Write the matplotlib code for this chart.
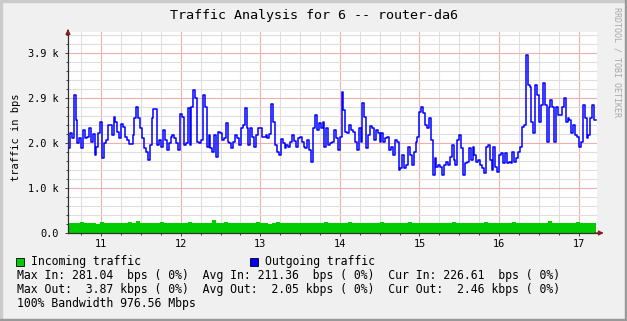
import numpy as np
import matplotlib.pyplot as plt
from matplotlib.patches import Rectangle

# time span of the samples (x axis = day of month)
t_start = 10.584
t_end = 17.218

# outgoing traffic, bps (~2px per sample)
out_bps = [
    1840, 2170, 2060, 2990, 2450, 1950, 2060, 1840, 2230, 2060,
    2080, 2270, 1970, 2140, 1690, 1860, 2170, 2400, 1620, 1950,
    2010, 2340, 2340, 2120, 2510, 2400, 2190, 2060, 2360, 2300, 2080,
    2010, 1930, 1930, 2120, 2490, 2730, 2490, 2270, 2060, 1840, 1750,
    1580, 1910, 2490, 2690, 2690, 1910, 2010, 1860, 2230, 2010,
    1800, 1950, 2080, 2120, 2060, 1950, 1800, 2580, 2510, 1910,
    1950, 2710, 1910, 2730, 3100, 2920, 1970,
    1950, 2010, 2990, 2730, 1860, 2120, 1840, 1750, 2120, 1650,
    2190, 2170, 2010, 2060, 2380, 1970, 1950, 1840, 1970, 2120,
    2060, 1910, 2270, 2340, 2710, 2270, 1910, 2270, 2080, 1860,
    2120, 2270, 2270, 2080, 2080, 2120, 2060, 2140, 2790, 2400,
    1910, 1750, 1690, 2040, 1950, 1840, 1910, 1860, 1970, 2120,
    1990, 1860, 2060, 2080, 1970, 1860, 1840, 2010, 1800, 1540,
    2270, 2560, 2230, 2380, 2270, 2400, 1860, 2270, 1910, 1950,
    1970, 2230, 2060, 1800, 2080, 3050, 2660, 2190, 2170, 2340,
    2230, 2190, 1970, 1800, 2270, 1970, 2820, 2510, 1840, 2120,
    2320, 2270, 2010, 2230, 2170, 1970, 2170, 1970, 2060, 2080,
    1800, 1860, 1690, 2010, 1970, 1370, 1410, 1690, 1410, 1470,
    1860, 1690, 1470, 1750, 1970, 2080, 2620, 2730, 2600, 2340,
    2270, 2490, 2010, 1260, 1620, 1430, 1470, 1430, 1260, 1470,
    1540, 1470, 1650, 1910, 1580, 1470, 2010,
    2120, 1840, 1260, 1520, 1540, 1840, 1580, 1860, 1690, 1540,
    1580, 1470, 1410, 1300, 1860, 1910, 1580, 1370, 1860, 1430,
    1320, 1690, 1730, 1520, 1730, 1520, 1540, 1520, 1750, 1540,
    1620, 1750, 1860, 2300, 2340, 3860, 3210, 3160, 2400, 2170,
    3210, 2990, 2400, 2770, 3250, 2770, 1970, 2730, 2880, 2730,
    1970, 2730, 2560, 2560, 2730, 2920, 2400, 2490, 2450, 2170,
    2340, 2120, 2080, 1860, 1970, 2770, 2490, 2060, 2120, 2490,
    2770, 2450,
]

# incoming traffic, bps
in_bps = [
    215, 222, 208, 230, 212, 225, 218, 204, 228, 216,
    221, 210, 226, 214, 219, 232, 211, 268, 220, 209,
    224, 213, 218, 229, 206, 221, 215, 227, 212, 219,
    230, 208, 222, 214, 225, 217, 281, 213, 220, 228,
    207, 219, 224, 211, 226, 215, 209, 231, 218, 222,
    205, 217, 228, 213, 220, 224, 210, 219, 227, 214,
    221, 208, 225, 216, 230, 212, 219, 206, 223, 217,
    228, 211, 220, 214, 226, 209, 222, 218, 231, 213,
    216, 224, 207, 221, 215, 229, 212, 220, 218, 225,
    210, 223, 214, 227, 208, 219, 232, 215, 221, 211,
    226, 213, 220, 217, 229, 209, 222, 215, 224, 212,
    218, 230, 206, 221, 216, 227, 213, 220, 225, 211,
    262, 218, 223, 209, 226, 215, 221, 230, 212, 219,
    224, 227,
]

xtick_vals = [11, 12, 13, 14, 15, 16, 17]
xtick_labels = ["11", "12", "13", "14", "15", "16", "17"]
ytick_vals = [0, 976.5625, 1953.125, 2929.6875, 3906.25]
ytick_labels = ["0.0", "1.0 k", "2.0 k", "2.9 k", "3.9 k"]

title = "Traffic Analysis for 6 -- router-da6"
legend_names = ["Incoming traffic", "Outgoing traffic"]
legend_lines = [
    "Max In: 281.04  bps ( 0%)  Avg In: 211.36  bps ( 0%)  Cur In: 226.61  bps ( 0%)",
    "Max Out:  3.87 kbps ( 0%)  Avg Out:  2.05 kbps ( 0%)  Cur Out:  2.46 kbps ( 0%)",
    "100% Bandwidth 976.56 Mbps",
]

W, H = 627.0, 321.0
mono = "DejaVu Sans Mono"

fig = plt.figure(figsize=(W / 100, H / 100), dpi=100, facecolor="#F0F0F0")
ax = fig.add_axes([68 / W, 1 - 233 / H, 529 / W, 201 / H])
ax.set_facecolor("white")

# data
e_out = np.linspace(t_start, t_end, len(out_bps) + 1)
e_in = np.linspace(t_start, t_end, len(in_bps) + 1)
ax.fill_between(e_in, in_bps + [in_bps[-1]], step="post", color="#00CC00", lw=0, zorder=2)
ax.step(e_out, out_bps + [out_bps[-1]], where="post", color="#0000FF", lw=1.1, zorder=3)

ax.set_xlim(10.584, 17.23)
ax.set_ylim(0, 4355)

# grid
ax.set_xticks(xtick_vals)
ax.set_xticklabels(xtick_labels)
ax.set_yticks(ytick_vals)
ax.set_yticklabels(ytick_labels)
ax.set_xticks(np.arange(10.75, 17.25, 0.25), minor=True)
ax.set_yticks(np.arange(0, 4355, 195.3125), minor=True)
ax.grid(which="minor", color="#DEDEDE", lw=0.8)
ax.grid(which="major", color="#EDB0B0", lw=0.8)
ax.set_axisbelow(True)

for s in ["top", "right"]:
    ax.spines[s].set_visible(False)
for s in ["left", "bottom"]:
    ax.spines[s].set_color("#303030")
    ax.spines[s].set_linewidth(0.9)

ax.tick_params(which="both", length=2.5, width=0.7, color="#404040")
ax.tick_params(which="minor", length=1.5)
ax.tick_params(axis="y", pad=4)
ax.tick_params(axis="x", pad=2)
for lab in ax.get_xticklabels() + ax.get_yticklabels():
    lab.set_fontfamily(mono)
    lab.set_fontsize(7.4)

# arrows on the axes
ax.annotate("", xy=(1.018, 0), xytext=(0.99, 0), xycoords="axes fraction",
            arrowprops=dict(arrowstyle="-|>", color="#7F1F1F", lw=0.9, mutation_scale=7),
            annotation_clip=False)
ax.annotate("", xy=(0, 1.028), xytext=(0, 0.99), xycoords="axes fraction",
            arrowprops=dict(arrowstyle="-|>", color="#7F1F1F", lw=0.9, mutation_scale=7),
            annotation_clip=False)

# texts
fig.text(0.5, 1 - 16 / H, title, ha="center", va="center", family=mono, size=9.6)
fig.text(16 / W, 1 - 137 / H, "traffic in bps", rotation=90, ha="center", va="center",
         family=mono, size=7.5)
fig.text(617 / W, 1 - 62 / H, "RRDTOOL / TOBI OETIKER", rotation=270, ha="center",
         va="center", family=mono, size=6, color="#A8A8A8")

# legend
sq_cols = ["#00CC00", "#0000FF"]
sq_x = [16, 250]
for i in range(2):
    fig.patches.append(Rectangle((sq_x[i] / W, 1 - 266 / H), 8 / W, 8 / H,
                                 transform=fig.transFigure, facecolor=sq_cols[i],
                                 edgecolor="black", lw=0.6))
    fig.text((sq_x[i] + 15) / W, 1 - 262 / H, legend_names[i], va="center",
             family=mono, size=8.3)
for i, line in enumerate(legend_lines):
    fig.text(17 / W, 1 - (276 + 14 * i) / H, line, va="center", family=mono, size=8.3)

# 3d-ish frame
fig.patches.append(Rectangle((0, 1 - 2 / H), 1, 2 / H, transform=fig.transFigure, color="#CBCBCB"))
fig.patches.append(Rectangle((0, 0), 2 / W, 1, transform=fig.transFigure, color="#CBCBCB"))
fig.patches.append(Rectangle((0, 0), 1, 2 / H, transform=fig.transFigure, color="#999999"))
fig.patches.append(Rectangle((1 - 2 / W, 0), 2 / W, 1, transform=fig.transFigure, color="#999999"))

fig.savefig("out.png", dpi=100, facecolor=fig.get_facecolor())
